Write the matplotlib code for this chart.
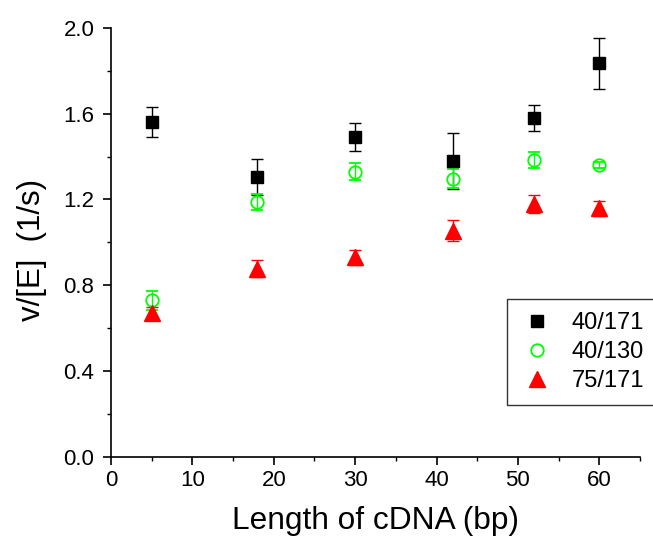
import numpy as np
import matplotlib.pyplot as plt
from matplotlib.ticker import MultipleLocator
from matplotlib.lines import Line2D

plt.rcParams['font.family'] = ['Liberation Sans', 'DejaVu Sans']

length = [5, 18, 30, 42, 52, 60]

v_40_171 = [1.56, 1.305, 1.49, 1.38, 1.58, 1.835]
err_40_171 = [0.07, 0.085, 0.065, 0.13, 0.06, 0.118]

v_40_130 = [0.73, 1.19, 1.33, 1.297, 1.385, 1.362]
err_40_130 = [0.045, 0.037, 0.04, 0.045, 0.037, 0.015]

v_75_171 = [0.67, 0.878, 0.93, 1.055, 1.18, 1.16]
err_75_171 = [0.03, 0.04, 0.035, 0.05, 0.042, 0.035]

series = [
    ('40/171', v_40_171, err_40_171, dict(marker='s', color='black', mfc='black', ms=8)),
    ('40/130', v_40_130, err_40_130, dict(marker='o', color='#00ff00', mfc='none', ms=9, mew=1.3)),
    ('75/171', v_75_171, err_75_171, dict(marker='^', color='red', mfc='red', ms=11.5)),
]

fig = plt.figure(figsize=(6.53, 5.38), dpi=100)
ax = fig.add_axes([0.170, 0.151, 0.810, 0.797])

handles = []
for name, y, e, st in series:
    ax.errorbar(length, y, yerr=e, ls='none', capsize=4, elinewidth=1,
                capthick=1, **st)
    handles.append(Line2D([], [], ls='none', label=name, **st))

ax.set_xlim(0, 65)
ax.set_ylim(0, 2.0)
ax.xaxis.set_major_locator(MultipleLocator(10))
ax.xaxis.set_minor_locator(MultipleLocator(5))
ax.yaxis.set_major_locator(MultipleLocator(0.4))
ax.yaxis.set_minor_locator(MultipleLocator(0.2))
ax.yaxis.set_major_formatter(plt.FormatStrFormatter('%.1f'))

for side in ('top', 'right'):
    ax.spines[side].set_visible(False)
for side in ('left', 'bottom'):
    ax.spines[side].set_linewidth(1.2)

ax.tick_params(which='major', direction='out', length=6, width=1.2, labelsize=16)
ax.tick_params(which='minor', direction='out', length=3, width=1)
ax.tick_params(axis='y', which='major', pad=6)

ax.set_xlabel('Length of cDNA (bp)', fontsize=22.8, labelpad=11)
ax.set_ylabel('v/[E]  (1/s)', fontsize=22.5)
ax.yaxis.set_label_coords(-0.121, 0.4825)

leg = ax.legend(handles=handles, loc='upper left',
                bbox_to_anchor=(507 / 653, 1 - 299 / 538),
                bbox_transform=fig.transFigure, fontsize=17, frameon=True,
                fancybox=False, edgecolor='black', handletextpad=0.8,
                borderaxespad=0, labelspacing=0.3, numpoints=1,
                handlelength=1.4, borderpad=0.55)
leg.get_frame().set_linewidth(1)

fig.savefig('out.png', dpi=100)
